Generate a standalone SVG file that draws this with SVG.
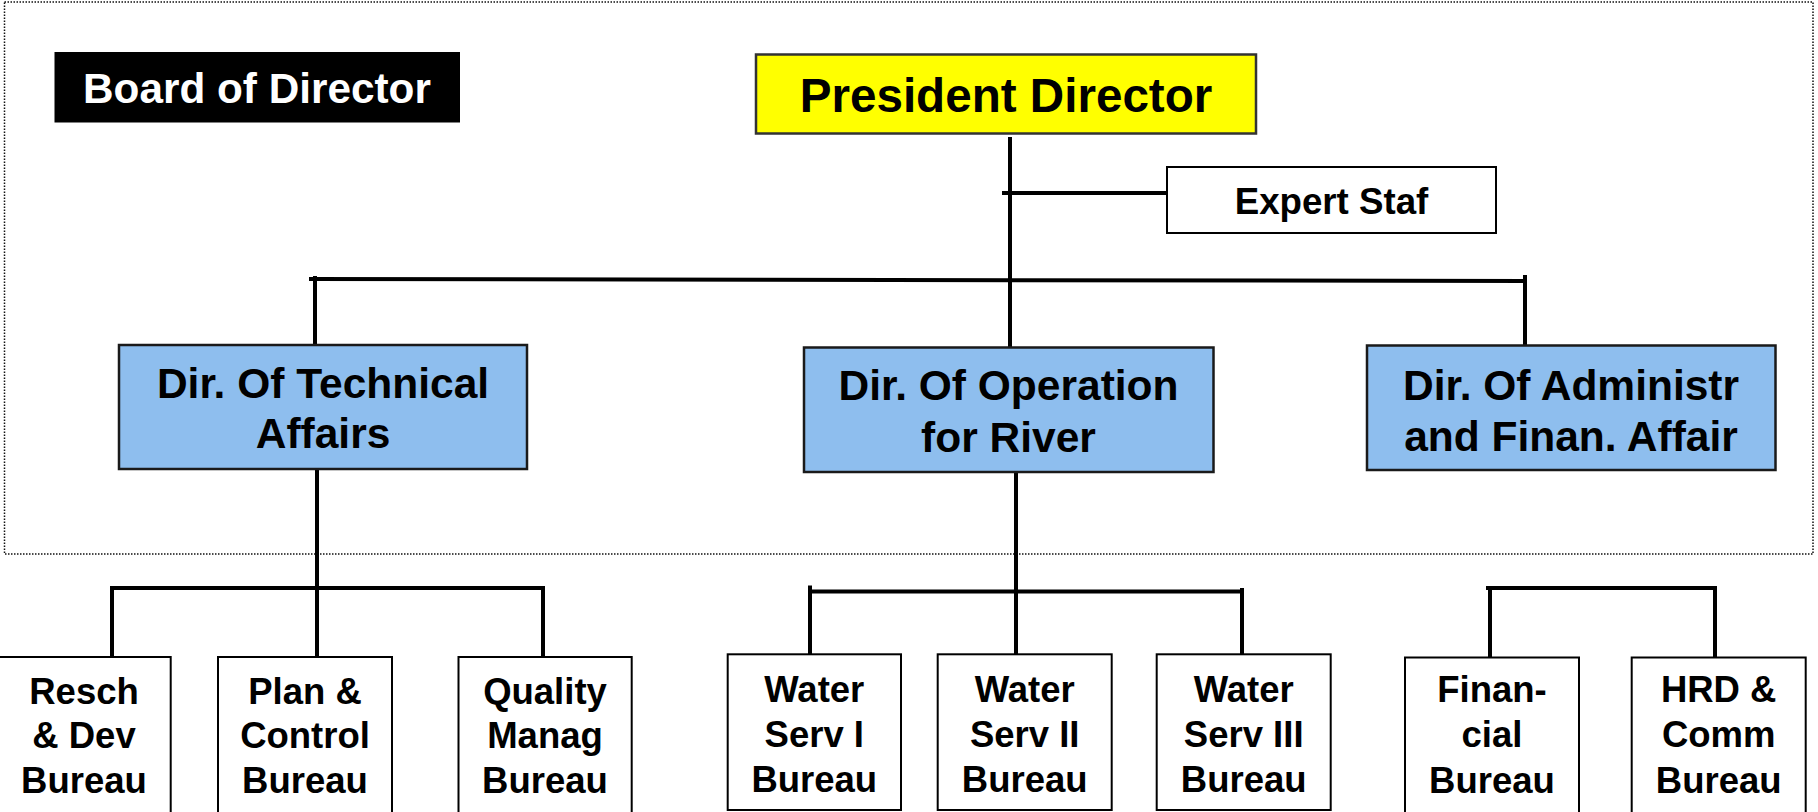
<svg xmlns="http://www.w3.org/2000/svg" width="1818" height="812" viewBox="0 0 1818 812">
<style>
text{font-family:"Liberation Sans",Arial,sans-serif;font-weight:bold;text-anchor:middle;fill:#000}
.frame{fill:none;stroke:#111;stroke-width:1.5;stroke-dasharray:1.5 1.5}
.blue{fill:#8EBEEE;stroke:#1a1a1a;stroke-width:2.5}
.yellow{fill:#FFFF00;stroke:#333;stroke-width:2.5}
.white{fill:#fff;stroke:#000;stroke-width:2}
.conn line{stroke:#000;stroke-width:4;stroke-linecap:butt}
.d{font-size:42.5px}
.b{font-size:36.5px}
</style>
<rect class="frame" x="4.5" y="2" width="1808.5" height="552"/>
<g class="conn" id="connectors">
<line x1="1010" y1="137" x2="1010" y2="347"/>
<line x1="1002" y1="193" x2="1167" y2="193"/>
<line x1="309" y1="279" x2="1527" y2="281"/>
<line x1="315" y1="276" x2="315" y2="345"/>
<line x1="1525" y1="275" x2="1525" y2="345"/>
<line x1="317" y1="469" x2="317" y2="657"/>
<line x1="110" y1="588" x2="545" y2="588"/>
<line x1="112" y1="588" x2="112" y2="657"/>
<line x1="543" y1="586" x2="543" y2="657"/>
<line x1="1016" y1="472" x2="1016" y2="654"/>
<line x1="808" y1="591.5" x2="1244" y2="591.5"/>
<line x1="810" y1="585.5" x2="810" y2="654"/>
<line x1="1242" y1="588" x2="1242" y2="654"/>
<line x1="1486" y1="588" x2="1717" y2="588"/>
<line x1="1490" y1="586" x2="1490" y2="657"/>
<line x1="1715" y1="586" x2="1715" y2="657"/>
</g>
<g id="board">
<rect x="54.5" y="52" width="405.5" height="70.5" fill="#000"/>
<text x="257" y="102.5" style="font-size:42.3px;fill:#fff">Board of Director</text>
</g>
<g id="president">
<rect class="yellow" x="756" y="54.5" width="500" height="79"/>
<text x="1006" y="112" style="font-size:47.6px">President Director</text>
</g>
<g id="expert">
<rect class="white" x="1167" y="167" width="329" height="66"/>
<text x="1331.5" y="213.5" style="font-size:36.7px">Expert Staf</text>
</g>
<g id="dir-tech">
<rect class="blue" x="119" y="345" width="408" height="124"/>
<text class="d" x="323" y="398">Dir. Of Technical</text>
<text class="d" x="323" y="448">Affairs</text>
</g>
<g id="dir-oper">
<rect class="blue" x="804" y="347.5" width="409.5" height="124.5"/>
<text class="d" x="1008.5" y="399.5">Dir. Of Operation</text>
<text class="d" x="1008.5" y="451.5">for River</text>
</g>
<g id="dir-admin">
<rect class="blue" x="1367" y="345.5" width="408.5" height="124.5"/>
<text class="d" x="1571" y="400">Dir. Of Administr</text>
<text class="d" x="1571" y="451">and Finan. Affair</text>
</g>
<g id="resch">
<rect class="white" x="-2" y="657" width="172.7" height="165"/>
<text class="b" x="84" y="703.5">Resch</text>
<text class="b" x="84" y="748">&amp; Dev</text>
<text class="b" x="84" y="792.5">Bureau</text>
</g>
<g id="plan">
<rect class="white" x="218" y="657" width="174" height="165"/>
<text class="b" x="305" y="703.5">Plan &amp;</text>
<text class="b" x="305" y="748">Control</text>
<text class="b" x="305" y="792.5">Bureau</text>
</g>
<g id="quality">
<rect class="white" x="458.5" y="657" width="173.2" height="165"/>
<text class="b" x="545" y="703.5">Quality</text>
<text class="b" x="545" y="748">Manag</text>
<text class="b" x="545" y="792.5">Bureau</text>
</g>
<g id="water1">
<rect class="white" x="727.7" y="654.3" width="173.3" height="155.7"/>
<text class="b" x="814.3" y="702">Water</text>
<text class="b" x="814.3" y="746.7">Serv I</text>
<text class="b" x="814.3" y="791.5">Bureau</text>
</g>
<g id="water2">
<rect class="white" x="937.7" y="654.3" width="174" height="155.7"/>
<text class="b" x="1024.7" y="702">Water</text>
<text class="b" x="1024.7" y="746.7">Serv II</text>
<text class="b" x="1024.7" y="791.5">Bureau</text>
</g>
<g id="water3">
<rect class="white" x="1156.7" y="654.3" width="174" height="155.7"/>
<text class="b" x="1243.7" y="702">Water</text>
<text class="b" x="1243.7" y="746.7">Serv III</text>
<text class="b" x="1243.7" y="791.5">Bureau</text>
</g>
<g id="financial">
<rect class="white" x="1405" y="657.5" width="174" height="165"/>
<text class="b" x="1492" y="702">Finan-</text>
<text class="b" x="1492" y="747">cial</text>
<text class="b" x="1492" y="792.5">Bureau</text>
</g>
<g id="hrd">
<rect class="white" x="1631.7" y="657.5" width="174" height="165"/>
<text class="b" x="1718.7" y="702">HRD &amp;</text>
<text class="b" x="1718.7" y="747">Comm</text>
<text class="b" x="1718.7" y="792.5">Bureau</text>
</g>
</svg>
